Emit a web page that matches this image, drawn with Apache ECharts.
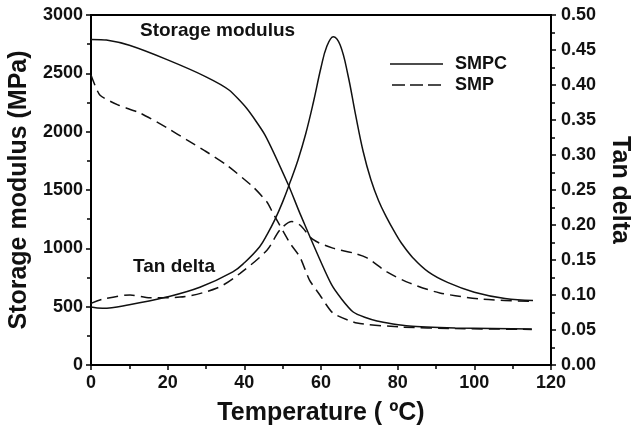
<!DOCTYPE html>
<html>
<head>
<meta charset="utf-8">
<script src="https://cdn.jsdelivr.net/npm/echarts@6/dist/echarts.min.js"></script>
<style>
  body { margin: 0; background: #fff; }
  #main { width: 631px; height: 425px; }
</style>
</head>
<body>
<div id="main"></div>
<script>
// storage modulus (MPa) vs temperature
var smpcModT = [0, 4, 10, 20, 30, 36, 40.6, 45.4, 51.5, 54.5, 62.8, 68.4, 74.6, 83, 95, 115];
var smpcMod  = [2790, 2785, 2740, 2615, 2470, 2357, 2200, 1971, 1543, 1300, 686, 454, 377, 334, 318, 308];
var smpModT  = [0, 2.3, 7, 12.8, 20, 25, 30, 35.4, 42.3, 45.9, 47.5, 51.9, 54.5, 57, 59.7, 63.1, 69.4, 80.6, 95, 115];
var smpMod   = [2486, 2314, 2230, 2160, 2030, 1929, 1830, 1714, 1526, 1397, 1300, 1045, 926, 728, 600, 446, 360, 326, 312, 305];

// tan delta vs temperature
var smpcTanT = [0, 3, 10, 19.7, 28.4, 37, 40, 44, 46, 48, 50, 52, 54, 56, 58, 60, 61.5, 63.2, 65, 67, 69, 71, 73, 75, 77, 79, 81, 84, 88, 93, 100, 108, 115.3];
var smpcTan  = [0.083, 0.081, 0.086, 0.097, 0.111, 0.133, 0.146, 0.169, 0.187, 0.208, 0.233, 0.262, 0.293, 0.33, 0.375, 0.425, 0.455, 0.469, 0.457, 0.415, 0.358, 0.305, 0.265, 0.235, 0.212, 0.192, 0.174, 0.153, 0.133, 0.118, 0.104, 0.095, 0.092];
var smpTanT  = [0, 3, 10.2, 15.4, 23.2, 32.9, 38.9, 45.9, 49.3, 52.4, 54.5, 58, 63.1, 68.4, 72, 77.2, 83.2, 91, 102.3, 115.3];
var smpTan   = [0.088, 0.094, 0.100, 0.096, 0.097, 0.110, 0.131, 0.164, 0.193, 0.205, 0.2, 0.179, 0.167, 0.16, 0.153, 0.133, 0.117, 0.103, 0.094, 0.091];

var seriesNames = ['SMPC', 'SMP'];

function pairs(xs, ys) {
  return xs.map(function (x, i) { return [x, ys[i]]; });
}

var font = 'Liberation Sans, Arial, sans-serif';
var ink = '#111';
var dash = [11, 6];

var myChart = echarts.init(document.getElementById('main'));

function lineSeries(name, data, yIndex, dashed, smooth) {
  return {
    name: name,
    type: 'line',
    yAxisIndex: yIndex,
    data: data,
    symbol: 'none',
    smooth: smooth,
    lineStyle: { color: ink, width: 1.5, type: dashed ? dash : 'solid' },
    itemStyle: { color: ink },
    animation: false
  };
}

var axisCommon = {
  axisLine: { show: true, lineStyle: { color: '#000', width: 2 } },
  axisTick: { show: true, length: 5, lineStyle: { color: '#000', width: 1.5 } },
  minorTick: { show: true, splitNumber: 2, length: 4, lineStyle: { color: '#000', width: 1.5 } },
  splitLine: { show: false },
  axisLabel: { color: '#111', fontFamily: font, fontWeight: 'bold', fontSize: 18 },
  nameTextStyle: { color: '#111', fontFamily: font, fontWeight: 'bold', fontSize: 25 }
};

// legend samples: a solid stroke and three dashes
var solidIcon = 'path://M0,0H53V1.6H0Z';
var dashIcon = 'path://M0,0H13V1.6H0Z M18,0H31V1.6H18Z M36,0H49V1.6H36Z';

var option = {
  backgroundColor: '#fff',
  grid: {
    left: 91, right: 80, top: 15, bottom: 60,
    outerBoundsMode: 'none',
    show: true, borderColor: '#000', borderWidth: 2
  },
  legend: {
    data: [
      { name: seriesNames[0], icon: solidIcon },
      { name: seriesNames[1], icon: dashIcon }
    ],
    orient: 'vertical',
    left: 385, top: 50,
    itemWidth: 53, itemHeight: 1.6, itemGap: 3,
    textStyle: { color: '#111', fontFamily: font, fontWeight: 'bold', fontSize: 18, padding: [0, 0, 0, 7] }
  },
  xAxis: Object.assign({}, axisCommon, {
    type: 'value',
    min: 0, max: 120, interval: 20,
    name: 'Temperature ( \u00baC)',
    nameLocation: 'middle',
    nameGap: 36,
    axisLabel: Object.assign({}, axisCommon.axisLabel, { margin: 9 })
  }),
  yAxis: [
    Object.assign({}, axisCommon, {
      type: 'value',
      min: 0, max: 3000, interval: 500,
      name: 'Storage modulus (MPa)',
      nameLocation: 'middle',
      nameGap: 48,
      axisLabel: Object.assign({}, axisCommon.axisLabel, {
        margin: 8,
        formatter: function (v) { return String(v); }
      })
    }),
    Object.assign({}, axisCommon, {
      type: 'value',
      position: 'right',
      min: 0, max: 0.5, interval: 0.05,
      name: 'Tan delta',
      nameLocation: 'middle',
      nameRotate: -90,
      nameGap: 54,
      axisLabel: Object.assign({}, axisCommon.axisLabel, {
        margin: 10,
        formatter: function (v) { return v.toFixed(2); }
      })
    })
  ],
  graphic: [
    { type: 'text', left: 140, top: 21, style: { text: 'Storage modulus', fill: '#111', font: 'bold 19px ' + font } },
    { type: 'text', left: 133, top: 257, style: { text: 'Tan delta', fill: '#111', font: 'bold 19px ' + font } }
  ],
  series: [
    lineSeries('SMPC', pairs(smpcModT, smpcMod), 0, false, 0.2),
    lineSeries('SMP', pairs(smpModT, smpMod), 0, true, 0.2),
    lineSeries('SMPC', pairs(smpcTanT, smpcTan), 1, false, 0.4),
    lineSeries('SMP', pairs(smpTanT, smpTan), 1, true, 0.3)
  ]
};

myChart.setOption(option);
</script>
</body>
</html>
